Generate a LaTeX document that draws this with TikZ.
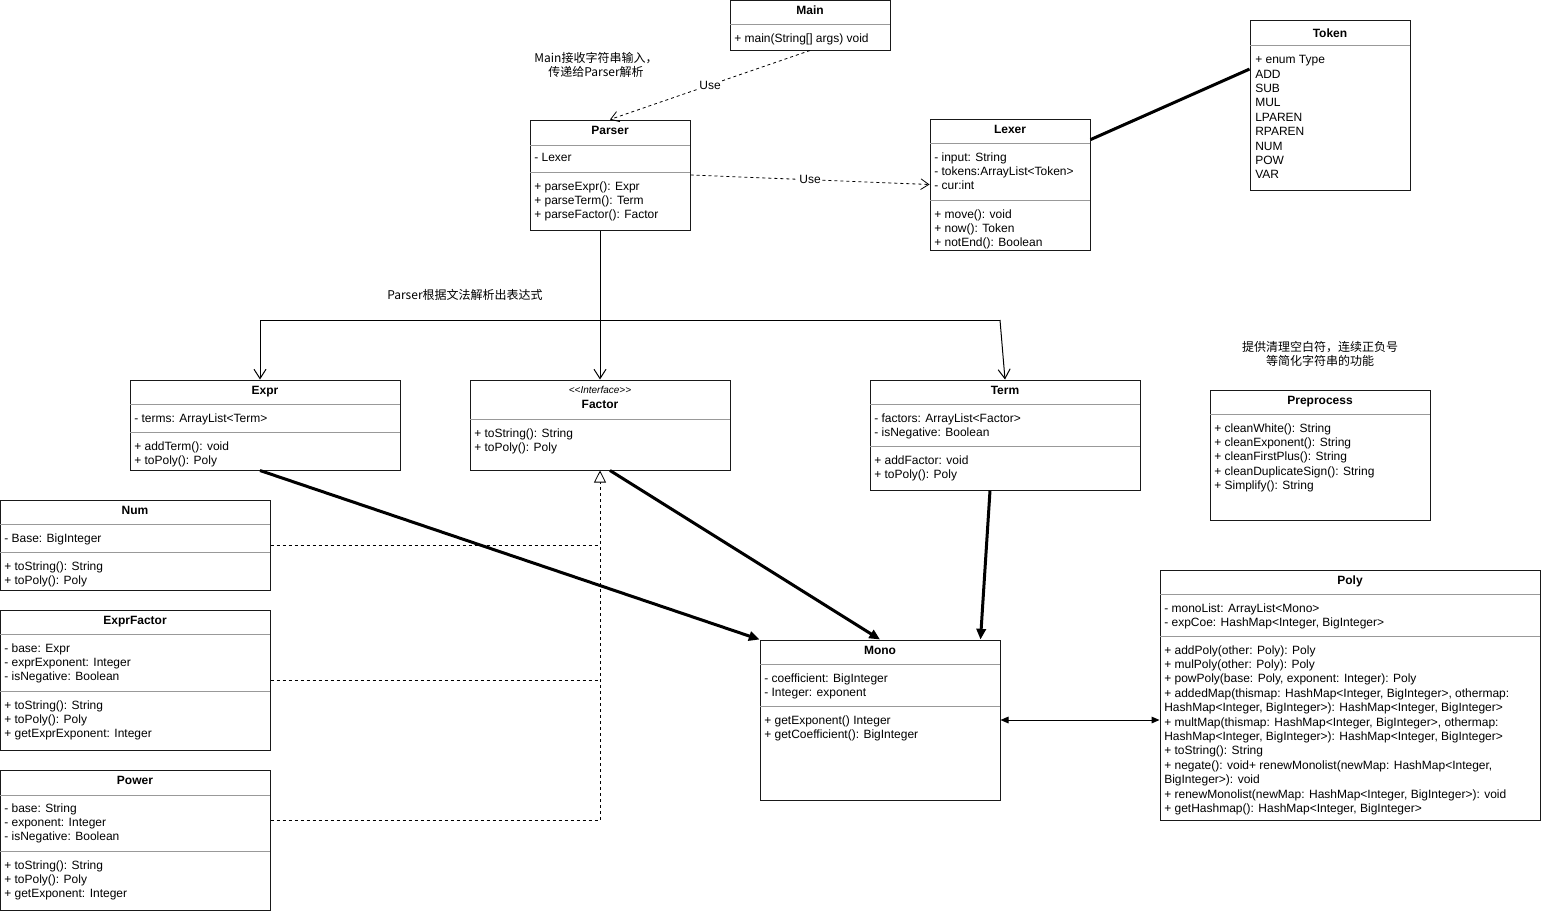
\documentclass[tikz,border=0pt]{standalone}
\usepackage{fontspec}
\setmainfont{Liberation Sans}
\newfontfamily\cjk{Noto Sans CJK SC}
\usetikzlibrary{positioning,arrows.meta,calc,fit}

\begin{document}
\begin{tikzpicture}[x=0.75pt,y=-0.75pt,
  every node/.style={font=\fontsize{9}{10.8}\selectfont},
  cls/.style={draw=black!90,line width=0.75pt,inner sep=0pt},
  ttl/.style={font=\fontsize{9}{10.8}\selectfont\bfseries,inner sep=0pt,
              text height=6.5pt,text depth=1.5pt,yshift=-0.75pt},
  stereo/.style={font=\fontsize{7.5}{9}\selectfont\itshape,inner sep=0pt},
  body/.style={anchor=north west,align=left,inner sep=0pt,yshift=-0.9pt},
  sep/.style={draw=black!40,line width=0.75pt},
  note/.style={font=\fontsize{9}{10.5}\selectfont\cjk,align=center,inner sep=0pt},
  lbl/.style={fill=white,inner sep=1pt},
  dep/.style={dash pattern=on 2.25pt off 2.25pt,line width=0.6pt,
              -{Straight Barb[length=6pt,width=8pt]}},
  assoc/.style={line width=0.75pt,-{Straight Barb[length=7pt,width=9pt]}},
  comp/.style={line width=2.25pt,-{Triangle[length=8pt,width=7pt]}},
  real/.style={dash pattern=on 2.25pt off 2.25pt,line width=0.6pt},
  link/.style={line width=2.25pt},
]
\useasboundingbox (0,0) rectangle (1542,911);

% Main
\node[cls,fit={(730,0.5) (890,50)}] (main) {};
\node[ttl] (main-t) at (810,10) {Main};
\draw[sep] (730,24) -- (890,24);
\node[body] (main-m) at (734,32) {+ main(String[] args) void};

% Parser
\node[cls,fit={(530,120) (690,230)}] (parser) {};
\node[ttl] (parser-t) at (610,130) {Parser};
\draw[sep] (530,145) -- (690,145);
\node[body] (parser-a) at (534,152) {- Lexer};
\draw[sep] (530,172) -- (690,172);
\node[body] (parser-m) at (534,180) {+ parseExpr(): Expr\\+ parseTerm(): Term\\+ parseFactor(): Factor};

% Lexer
\node[cls,fit={(930,119) (1090,250)}] (lexer) {};
\node[ttl] (lexer-t) at (1010,129) {Lexer};
\draw[sep] (930,143) -- (1090,143);
\node[body] (lexer-a) at (934,151) {- input: String\\- tokens:ArrayList<Token>\\- cur:int};
\draw[sep] (930,200) -- (1090,200);
\node[body] (lexer-m) at (934,208) {+ move(): void\\+ now(): Token\\+ notEnd(): Boolean};

% Token
\node[cls,fit={(1250,20) (1410,190)}] (token) {};
\node[ttl] (token-t) at (1330,33) {Token};
\draw[sep] (1250,45) -- (1410,45);
\node[body] (token-a) at (1255,54) {+ enum Type\\ADD\\SUB\\MUL\\LPAREN\\RPAREN\\NUM\\POW\\VAR};

% Expr
\node[cls,fit={(130,380) (400,470)}] (expr) {};
\node[ttl] (expr-t) at (265,390) {Expr};
\draw[sep] (130,404) -- (400,404);
\node[body] (expr-a) at (134,412) {- terms: ArrayList<Term>};
\draw[sep] (130,432) -- (400,432);
\node[body] (expr-m) at (134,440) {+ addTerm(): void\\+ toPoly(): Poly};

% Factor
\node[cls,fit={(470,380) (730,470)}] (factor) {};
\node[stereo] (factor-s) at (600,390) {<{}<Interface>{}>};
\node[ttl] (factor-t) at (600,404) {Factor};
\draw[sep] (470,419) -- (730,419);
\node[body] (factor-m) at (474,427) {+ toString(): String\\+ toPoly(): Poly};

% Term
\node[cls,fit={(870,380) (1140,490)}] (term) {};
\node[ttl] (term-t) at (1005,390) {Term};
\draw[sep] (870,404) -- (1140,404);
\node[body] (term-a) at (874,412) {- factors: ArrayList<Factor>\\- isNegative: Boolean};
\draw[sep] (870,446) -- (1140,446);
\node[body] (term-m) at (874,454) {+ addFactor: void\\+ toPoly(): Poly};

% Preprocess
\node[cls,fit={(1210,390) (1430,520)}] (prep) {};
\node[ttl] (prep-t) at (1320,400) {Preprocess};
\draw[sep] (1210,414) -- (1430,414);
\node[body] (prep-m) at (1214,422) {+ cleanWhite(): String\\+ cleanExponent(): String\\+ cleanFirstPlus(): String\\+ cleanDuplicateSign(): String\\+ Simplify(): String};

% Num
\node[cls,fit={(0.5,500) (270,590)}] (num) {};
\node[ttl] (num-t) at (135,510) {Num};
\draw[sep] (0,524) -- (270,524);
\node[body] (num-a) at (4,532) {- Base: BigInteger};
\draw[sep] (0,552) -- (270,552);
\node[body] (num-m) at (4,560) {+ toString(): String\\+ toPoly(): Poly};

% ExprFactor
\node[cls,fit={(0.5,610) (270,750)}] (exprf) {};
\node[ttl] (exprf-t) at (135,620) {ExprFactor};
\draw[sep] (0,634) -- (270,634);
\node[body] (exprf-a) at (4,642) {- base: Expr\\- exprExponent: Integer\\- isNegative: Boolean};
\draw[sep] (0,691) -- (270,691);
\node[body] (exprf-m) at (4,699) {+ toString(): String\\+ toPoly(): Poly\\+ getExprExponent: Integer};

% Power
\node[cls,fit={(0.5,770) (270,910)}] (power) {};
\node[ttl] (power-t) at (135,780) {Power};
\draw[sep] (0,795) -- (270,795);
\node[body] (power-a) at (4,802) {- base: String\\- exponent: Integer\\- isNegative: Boolean};
\draw[sep] (0,851) -- (270,851);
\node[body] (power-m) at (4,859) {+ toString(): String\\+ toPoly(): Poly\\+ getExponent: Integer};

% Mono
\node[cls,fit={(760,640) (1000,800)}] (mono) {};
\node[ttl] (mono-t) at (880,650) {Mono};
\draw[sep] (760,664) -- (1000,664);
\node[body] (mono-a) at (764,672) {- coefficient: BigInteger\\- Integer: exponent};
\draw[sep] (760,706) -- (1000,706);
\node[body] (mono-m) at (764,714) {+ getExponent() Integer\\+ getCoefficient(): BigInteger};

% Poly
\node[cls,fit={(1160,570) (1540,820)}] (poly) {};
\node[ttl] (poly-t) at (1350,580) {Poly};
\draw[sep] (1160,594) -- (1540,594);
\node[body] (poly-a) at (1164,602) {- monoList: ArrayList<Mono>\\- expCoe: HashMap<Integer, BigInteger>};
\draw[sep] (1160,636) -- (1540,636);
\node[body] (poly-m) at (1164,644) {+ addPoly(other: Poly): Poly\\+ mulPoly(other: Poly): Poly\\+ powPoly(base: Poly, exponent: Integer): Poly\\+ addedMap(thismap: HashMap<Integer, BigInteger>, othermap:\\HashMap<Integer, BigInteger>): HashMap<Integer, BigInteger>\\+ multMap(thismap: HashMap<Integer, BigInteger>, othermap:\\HashMap<Integer, BigInteger>): HashMap<Integer, BigInteger>\\+ toString(): String\\+ negate(): void+ renewMonolist(newMap: HashMap<Integer,\\BigInteger>): void\\+ renewMonolist(newMap: HashMap<Integer, BigInteger>): void\\+ getHashmap(): HashMap<Integer, BigInteger>};

% notes
\node[note] (n-main) at (596,65) {Main接收字符串输入，\\传递给Parser解析};
\node[note] (n-parse) at (465,295) {Parser根据文法解析出表达式};
\node[note] (n-prep) at (1320,354) {提供清理空白符，连续正负号\\等简化字符串的功能};

% connectors
\draw[dep] (main.south) -- node[lbl] (use1) {Use} (parser.north);
\draw[dep] (parser.east) -- node[lbl] (use2) {Use} (lexer.west);
\draw[link] ($(lexer.north east)!0.16!(lexer.south east)$) -- ($(token.north west)!0.29!(token.south west)$);

\coordinate (bl) at (260,320);
\coordinate (br) at (1000,320);
\draw[line width=0.75pt] (bl) -- (br);
\draw[assoc] (factor.north |- parser.south) -- (factor.north);
\draw[assoc] (bl) -- (bl |- expr.north);
\draw[assoc] (br) -- (term.north);

\draw[comp] ($(expr.south)+(-5,0)$) -- (mono.north west);
\draw[comp] ($(factor.south)+(10,0)$) -- (mono.north);
\draw[comp] ($(term.south)+(-15,0)$) -- ($(mono.north east)+(-20,0)$);

\coordinate (pw) at ($(power.east)+(0,-20)$);
\draw[real] (num.east) -- (num.east -| factor.south);
\draw[real] (exprf.east) -- (exprf.east -| factor.south);
\draw[real,-{Triangle[open,length=9pt,width=9pt,fill=white]}] (pw) -- (pw -| factor.south) -- (factor.south);

\draw[line width=0.75pt,{Triangle[length=6pt,width=5pt]}-{Triangle[length=6pt,width=5pt]}] (mono.east) -- (mono.east -| poly.west);
\end{tikzpicture}
\end{document}
